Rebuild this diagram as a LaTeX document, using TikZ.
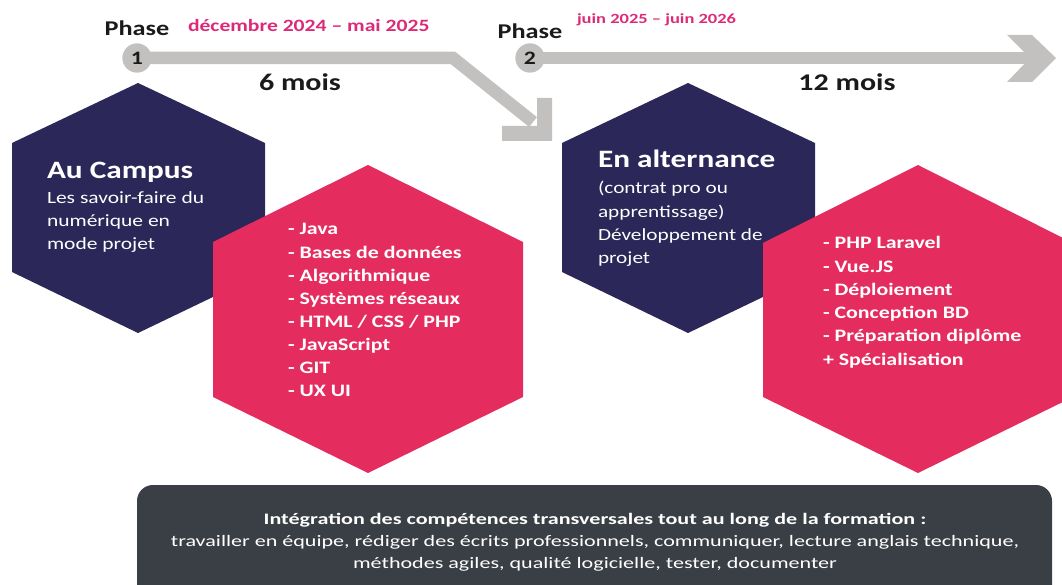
\documentclass[tikz,border=0pt]{standalone}
\usepackage{fontspec}
\setmainfont{Carlito}
\usepackage{graphicx}
\definecolor{navy}{HTML}{2B2758}
\definecolor{rose}{HTML}{E42D5E}
\definecolor{pinktxt}{HTML}{DC2A78}
\definecolor{arrowgray}{HTML}{C2C1BF}
\definecolor{ink}{HTML}{1A1A1A}
\definecolor{boxgray}{HTML}{3A3F45}
\newcommand{\hs}[1]{\scalebox{1.25}[1]{#1}}
\newcommand{\hsw}[1]{\scalebox{1.38}[1]{#1}}
\tikzset{
  txt/.style={inner sep=0pt, outer sep=0pt},
  wtxt/.style={txt, text=white},
  shaft/.style={draw=arrowgray, line width=12.5pt},
  numcirc/.style={circle, fill=arrowgray, minimum size=29pt, inner sep=0pt, text=ink, font=\fontsize{19}{22}\selectfont\bfseries},
}
\begin{document}
\begin{tikzpicture}[x=1pt, y=-1pt]
\useasboundingbox (0,0) rectangle (1062,585);
\clip (0,0) rectangle (1062,585);

% arrows
\node[numcirc] (c1) at (137,58) {};
\node[numcirc] (c2) at (530,58) {};
\coordinate (k1) at (453,58);
\coordinate (e1) at (533,122);
\coordinate (e2) at (1036,58);
\draw[shaft, line join=miter] (c1.center) -- (k1) -- (e1);
\fill[arrowgray] (537,98) -- (552,98) -- (552,141) -- (502,141) -- (502,126) -- (537,126) -- cycle;
\draw[shaft] (c2.center) -- (e2);
\fill[arrowgray] (1007,35) -- (1032,35) -- (1056,58) -- (1032,82) -- (1007,82) -- (1030,58) -- cycle;
\node[numcirc] at (c1) {\hs{1}};
\node[numcirc] at (c2) {\hs{2}};

% top labels
\node[txt, anchor=base, text=ink, font=\fontsize{21}{24}\selectfont\bfseries] (ph1) at (137,36) {\hs{Phase}};
\node[txt, anchor=base west, text=pinktxt, font=\fontsize{17.3}{20}\selectfont\bfseries] (d1) at (188,32) {\hs{décembre 2024 – mai 2025}};
\node[txt, anchor=base, text=ink, font=\fontsize{24}{28}\selectfont\bfseries] (m1) at (300,91) {\hs{6 mois}};
\node[txt, anchor=base, text=ink, font=\fontsize{21}{24}\selectfont\bfseries] (ph2) at (530,39) {\hs{Phase}};
\node[txt, anchor=base west, text=pinktxt, font=\fontsize{14}{16}\selectfont\bfseries] (d2) at (577,24) {\scalebox{1.32}[1]{juin 2025 – juin 2026}};
\node[txt, anchor=base, text=ink, font=\fontsize{24}{28}\selectfont\bfseries] (m2) at (847,91) {\hs{12 mois}};

% hexagons
\fill[navy] (12,143) -- (138,83) -- (265,143) -- (265,272) -- (138,333) -- (12,272) -- cycle;
\fill[navy] (562,143) -- (688,83) -- (815,143) -- (815,272) -- (688,333) -- (562,272) -- cycle;
\fill[rose] (213,242) -- (368,165) -- (523,242) -- (523,397) -- (368,473) -- (213,397) -- cycle;
\fill[rose] (763,243) -- (918,165) -- (1073,243) -- (1073,397) -- (918,473) -- (763,397) -- cycle;

% hexagon texts
\node[wtxt, anchor=base west, font=\fontsize{25}{28}\selectfont\bfseries] (t1) at (47,179) {\hs{Au Campus}};
\node[wtxt, anchor=base west, font=\fontsize{17.2}{23}\selectfont] (s1) at (47,204)
  {\hs{\begin{tabular}[t]{@{}l@{}}Les savoir-faire du\\numérique en\\mode projet\end{tabular}}};
\node[wtxt, anchor=base west, font=\fontsize{17.5}{23.1}\selectfont\bfseries] (l1) at (288,235)
  {\hs{\begin{tabular}[t]{@{}l@{}}- Java\\- Bases de données\\- Algorithmique\\- Systèmes réseaux\\- HTML / CSS / PHP\\- JavaScript\\- GIT\\- UX UI\end{tabular}}};
\node[wtxt, anchor=base west, font=\fontsize{25}{28}\selectfont\bfseries] (t2) at (598,168) {\hs{En alternance}};
\node[wtxt, anchor=base west, font=\fontsize{17}{23.3}\selectfont] (s2) at (598,194)
  {\hs{\begin{tabular}[t]{@{}l@{}}(contrat pro ou\\apprentissage)\\Développement de\\projet\end{tabular}}};
\node[wtxt, anchor=base west, font=\fontsize{17.5}{23.2}\selectfont\bfseries] (l2) at (823,249)
  {\hs{\begin{tabular}[t]{@{}l@{}}- PHP Laravel\\- Vue.JS\\- Déploiement\\- Conception BD\\- Préparation diplôme\\+ Spécialisation\end{tabular}}};

% bottom box
\fill[boxgray, rounded corners=16pt] (137,485) rectangle (1052,610);
\node[wtxt, anchor=base, font=\fontsize{16}{22}\selectfont] (b1) at (595,524)
  {\hsw{\begin{tabular}[t]{@{}c@{}}\textbf{Intégration des compétences transversales tout au long de la formation :}\\travailler en équipe, rédiger des écrits professionnels, communiquer, lecture anglais technique,\\méthodes agiles, qualité logicielle, tester, documenter\end{tabular}}};
\end{tikzpicture}
\end{document}
